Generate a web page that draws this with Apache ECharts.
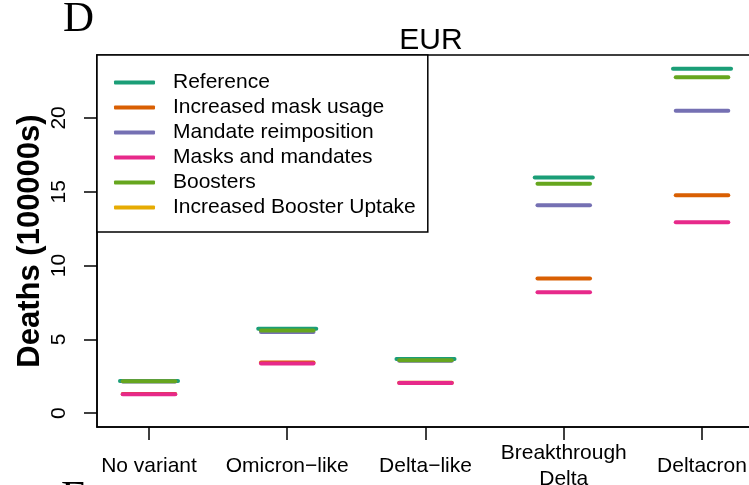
<!DOCTYPE html>
<html>
<head>
<meta charset="utf-8">
<script src="https://cdn.jsdelivr.net/npm/echarts@6/dist/echarts.min.js"></script>
<style>
  html, body { margin: 0; padding: 0; background: #fff; }
  #chart { width: 749px; height: 485px; }
</style>
</head>
<body>
<div id="chart"></div>
<script>
// Projected deaths (100000s) per variant scenario, EUR region
const categories = ['No variant', 'Omicron\u2212like', 'Delta\u2212like', 'Breakthrough\nDelta', 'Deltacron'];
const yTicks = [0, 5, 10, 15, 20];

const reference        = [2.19, 5.72, 3.67, 15.96, 23.33];
const maskUsage        = [1.30, 3.44, 2.07, 9.12, 14.77];
const mandateReimpose  = [2.15, 5.50, 3.55, 14.09, 20.48];
const masksAndMandates = [1.28, 3.37, 2.04, 8.20, 12.94];
const boosters         = [2.16, 5.60, 3.58, 15.54, 22.76];
const boosterUptake    = [null, null, null, null, null];

const scenarios = [
  { name: 'Reference',               values: reference,        color: '#1B9E77', half: 0.21 },
  { name: 'Increased mask usage',    values: maskUsage,        color: '#D95F02', half: 0.19 },
  { name: 'Mandate reimposition',    values: mandateReimpose,  color: '#7570B3', half: 0.19 },
  { name: 'Masks and mandates',      values: masksAndMandates, color: '#E7298A', half: 0.19 },
  { name: 'Boosters',                values: boosters,         color: '#66A61E', half: 0.19 },
  { name: 'Increased Booster Uptake', values: boosterUptake,   color: '#E6AB02', half: 0.19 }
];

// R-style axis ranges: x from 0.8..5.2 and y from 0..max, each padded by 4%
const yTop = Math.max(...reference);
const yPad = yTop * 0.04;
const xLo = 0.8, xHi = categories.length + 0.2;
const xPad = (xHi - xLo) * 0.04;
const positions = categories.map((_, i) => i + 1);

const FONT = 'Liberation Sans, Arial, sans-serif';

const series = scenarios.map(s => ({
  name: s.name,
  type: 'custom',
  itemStyle: { color: s.color },
  data: s.values
    .map((v, i) => [positions[i], v])
    .filter(d => d[1] !== null),
  renderItem: function (params, api) {
    const x = api.value(0), y = api.value(1);
    const a = api.coord([x - s.half, y]);
    const b = api.coord([x + s.half, y]);
    return {
      type: 'line',
      shape: { x1: a[0], y1: a[1], x2: b[0], y2: b[1] },
      style: { stroke: s.color, lineWidth: 4, lineCap: 'round' }
    };
  }
}));

const chart = echarts.init(document.getElementById('chart'), null, { renderer: 'canvas' });
chart.setOption({
  backgroundColor: '#fff',
  animation: false,
  title: {
    text: 'EUR',
    left: 426,
    top: 21,
    textAlign: 'center',
    textStyle: { fontFamily: FONT, fontSize: 30, fontWeight: 'normal', color: '#000' }
  },
  legend: {
    orient: 'vertical',
    left: 97,
    top: 55,
    padding: [17, 2, 14, 17],
    borderColor: '#000',
    borderWidth: 1.5,
    backgroundColor: '#fff',
    itemWidth: 41,
    itemHeight: 4,
    itemGap: 4.0,
    icon: 'roundRect',
    selectedMode: false,
    textStyle: { fontFamily: FONT, fontSize: 21, lineHeight: 21, color: '#000', padding: [0, 10, 0, 13] },
    data: scenarios.map(s => s.name)
  },
  grid: {
    left: 97, top: 55, bottom: 58, right: -5,
    outerBoundsMode: 'none',
    containLabel: false,
    show: true, borderColor: '#000', borderWidth: 1.5, backgroundColor: 'transparent'
  },
  xAxis: {
    type: 'value',
    min: xLo - xPad,
    max: xHi + xPad,
    axisLine: { show: true, onZero: false, lineStyle: { color: '#000', width: 1.5 } },
    splitLine: { show: false },
    axisTick: { show: true, length: 13, customValues: positions, lineStyle: { color: '#000', width: 1.5 } },
    axisLabel: {
      customValues: positions,
      margin: 39,
      verticalAlign: 'middle',
      lineHeight: 26,
      fontFamily: FONT, fontSize: 21, color: '#000',
      formatter: v => categories[Math.round(v) - 1] || ''
    }
  },
  yAxis: {
    type: 'value',
    min: -yPad,
    max: yTop + yPad,
    name: 'Deaths (100000s)',
    nameLocation: 'middle',
    nameRotate: 90,
    nameGap: 51,
    nameMoveOverlap: false,
    nameTextStyle: { fontFamily: FONT, fontSize: 31, fontWeight: 'bold', color: '#000' },
    axisLine: { show: true, onZero: false, lineStyle: { color: '#000', width: 1.5 } },
    splitLine: { show: false },
    axisTick: { show: true, length: 13, customValues: yTicks, lineStyle: { color: '#000', width: 1.5 } },
    axisLabel: {
      customValues: yTicks,
      rotate: 90,
      margin: 27,
      fontFamily: FONT, fontSize: 21, color: '#000'
    }
  },
  graphic: [
    {
      type: 'text', left: 63, top: -2,
      style: { text: 'D', font: '43px "Liberation Serif", "Times New Roman", serif', fill: '#000' }
    },
    {
      type: 'text', left: 61, top: 477,
      style: { text: 'E', font: '43px "Liberation Serif", "Times New Roman", serif', fill: '#000' }
    }
  ],
  series: series
});
</script>
</body>
</html>
